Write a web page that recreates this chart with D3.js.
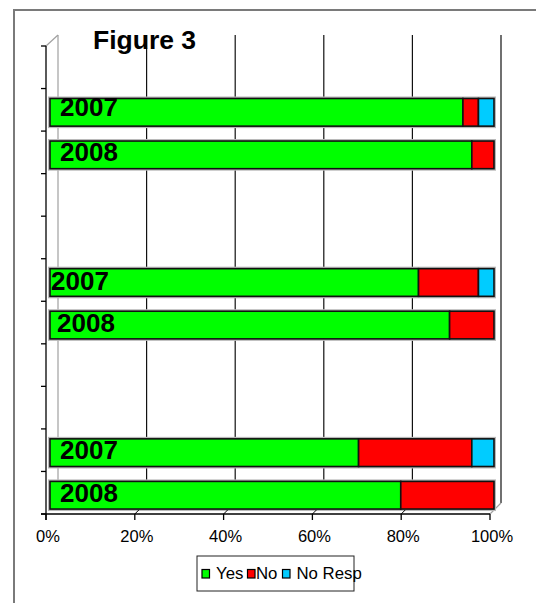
<!DOCTYPE html>
<html>
<head>
<meta charset="utf-8">
<script src="https://cdn.jsdelivr.net/npm/d3@7/dist/d3.min.js"></script>
<style>
  html, body { margin: 0; padding: 0; background: #fff; }
  svg { display: block; font-family: Arial, "Liberation Sans", sans-serif; }
</style>
</head>
<body>
<svg id="chart" width="536" height="603"></svg>
<script>
// Category slots on the vertical axis (11 slots, some left empty as spacers)
const slotCount = 11;
const rowSlots = [1, 2, 5, 6, 9, 10];
const rowLabels = ["2007", "2008", "2007", "2008", "2007", "2008"];

// Percent of responses per row
const yesValues    = [93, 95, 83, 90, 69.5, 79];
const noValues     = [3.5, 5, 13.5, 10, 25.5, 21];
const noRespValues = [3.5, 0, 3.5, 0, 5, 0];

const seriesNames  = ["Yes", "No", "No Resp"];
const seriesColors = ["#00ff00", "#ff0000", "#00ccff"];
const tickValues   = [0, 20, 40, 60, 80, 100];
const titleText    = "Figure 3";

const svg = d3.select("#chart");

// outer chart frame
svg.append("rect")
  .attr("x", 14).attr("y", 10).attr("width", 540).attr("height", 610)
  .attr("fill", "none").attr("stroke", "#7a7a7a").attr("stroke-width", 2);

// scales: front plane (axis), bar plane, back wall (gridlines)
const depth = 11;
const xFront = d3.scaleLinear().domain([0, 100]).range([46, 490]);
const xBar   = d3.scaleLinear().domain([0, 100]).range([50, 494]);
const xBack  = d3.scaleLinear().domain([0, 100]).range([46 + depth + 1, 490 + depth]);
const yTop = 46, yBottom = 514;

const ySlots = d3.scaleBand().domain(d3.range(slotCount)).range([yTop, yBottom]);
const yBars = d3.scaleBand().domain(d3.range(slotCount))
  .range([yTop + 2.5, yBottom + 2.5]).paddingInner(0.35).paddingOuter(0.175);

// back wall gridlines
const wallTop = yTop - depth, wallBottom = yBottom - depth;
svg.append("g").selectAll("line")
  .data(tickValues.filter(d => d > 0))
  .join("line")
  .attr("x1", d => xBack(d)).attr("x2", d => xBack(d))
  .attr("y1", wallTop).attr("y2", wallBottom)
  .attr("stroke", "#111").attr("stroke-width", 1.2);

// back wall left edge and depth edges
const edges = svg.append("g").attr("stroke", "#a0a0a0").attr("stroke-width", 1.2).attr("fill", "none");
edges.append("line").attr("x1", xBack(0)).attr("x2", xBack(0)).attr("y1", wallTop).attr("y2", wallBottom);
edges.append("line").attr("x1", xFront(0)).attr("y1", yTop).attr("x2", xBack(0)).attr("y2", wallTop);
edges.append("line").attr("x1", xFront(100)).attr("y1", yBottom).attr("x2", xBack(100)).attr("y2", wallBottom);

// title
svg.append("text")
  .attr("x", 93).attr("y", 49)
  .attr("font-size", 26.5).attr("font-weight", "bold").attr("fill", "#000")
  .text(titleText);

// stacked bars
const rows = rowSlots.map((s, i) => ({
  slot: s, label: rowLabels[i],
  "Yes": yesValues[i], "No": noValues[i], "No Resp": noRespValues[i]
}));
const stacked = d3.stack().keys(seriesNames)(rows);

// faint shadow outline around each bar
svg.append("g").selectAll("rect")
  .data(rows)
  .join("rect")
  .attr("x", xBar(0) - 1).attr("y", d => yBars(d.slot) - 1)
  .attr("width", xBar(100) - xBar(0) + 2).attr("height", yBars.bandwidth() + 2)
  .attr("fill", "none").attr("stroke", "#b8b8b8").attr("stroke-width", 2);

svg.append("g").selectAll("g")
  .data(stacked)
  .join("g")
  .attr("fill", (d, i) => seriesColors[i])
  .selectAll("rect")
  .data(d => d.filter(p => p[1] - p[0] > 0))
  .join("rect")
  .attr("x", p => xBar(p[0]))
  .attr("y", p => yBars(p.data.slot))
  .attr("width", p => xBar(p[1]) - xBar(p[0]))
  .attr("height", yBars.bandwidth())
  .attr("stroke", "#111").attr("stroke-width", 1.6);

// category labels drawn over the bars
const labelDx = [10, 10, 1, 7, 10, 10];
const labelDy = [3.5, 6, 7, 7, 6, 6.5];
svg.append("g").selectAll("text")
  .data(rows)
  .join("text")
  .attr("x", (d, i) => xBar(0) + labelDx[i])
  .attr("y", (d, i) => yBars(d.slot) + yBars.bandwidth() / 2 + labelDy[i])
  .attr("font-size", 26).attr("font-weight", "bold").attr("fill", "#000")
  .text(d => d.label);

// vertical category axis with tick marks at slot edges
const axisG = svg.append("g").attr("stroke", "#000").attr("stroke-width", 1.3);
axisG.append("line").attr("x1", xFront(0)).attr("x2", xFront(0)).attr("y1", yTop).attr("y2", yBottom + 6);
axisG.selectAll("line.ytick")
  .data(d3.range(slotCount + 1))
  .join("line").attr("class", "ytick")
  .attr("x1", xFront(0) - 5).attr("x2", xFront(0))
  .attr("y1", i => yTop + i * ySlots.step()).attr("y2", i => yTop + i * ySlots.step());

// horizontal value axis
axisG.append("line").attr("x1", xFront(0) - 5).attr("x2", xFront(100)).attr("y1", yBottom).attr("y2", yBottom);
axisG.selectAll("line.xtick")
  .data(tickValues)
  .join("line").attr("class", "xtick")
  .attr("x1", d => xFront(d)).attr("x2", d => xFront(d))
  .attr("y1", yBottom).attr("y2", yBottom + 6);
axisG.selectAll("line.xdepth")
  .data(tickValues.filter(d => d > 0 && d < 100))
  .join("line").attr("class", "xdepth")
  .attr("x1", d => xFront(d)).attr("x2", d => xFront(d) + 4)
  .attr("y1", yBottom).attr("y2", yBottom - 4)
  .attr("stroke-width", 1);

svg.append("g").selectAll("text")
  .data(tickValues)
  .join("text")
  .attr("x", d => xFront(d) + 2)
  .attr("y", 541.5)
  .attr("text-anchor", "middle")
  .attr("font-size", 16.5).attr("fill", "#000")
  .text(d => d + "%");

// legend
const legend = svg.append("g");
legend.append("rect")
  .attr("x", 197).attr("y", 556).attr("width", 157).attr("height", 35)
  .attr("fill", "#fff").attr("stroke", "#222").attr("stroke-width", 1);
const legendX = [202, 247.5, 282.5];
seriesNames.forEach((name, i) => {
  legend.append("rect")
    .attr("x", legendX[i]).attr("y", 569.5).attr("width", 7.5).attr("height", 8.5)
    .attr("fill", seriesColors[i]).attr("stroke", "#000").attr("stroke-width", 1.2);
  legend.append("text")
    .attr("x", legendX[i] + (i === 1 ? 8.5 : 14)).attr("y", 578.5)
    .attr("font-size", 16.8).attr("fill", "#000")
    .text(name);
});
</script>
</body>
</html>
